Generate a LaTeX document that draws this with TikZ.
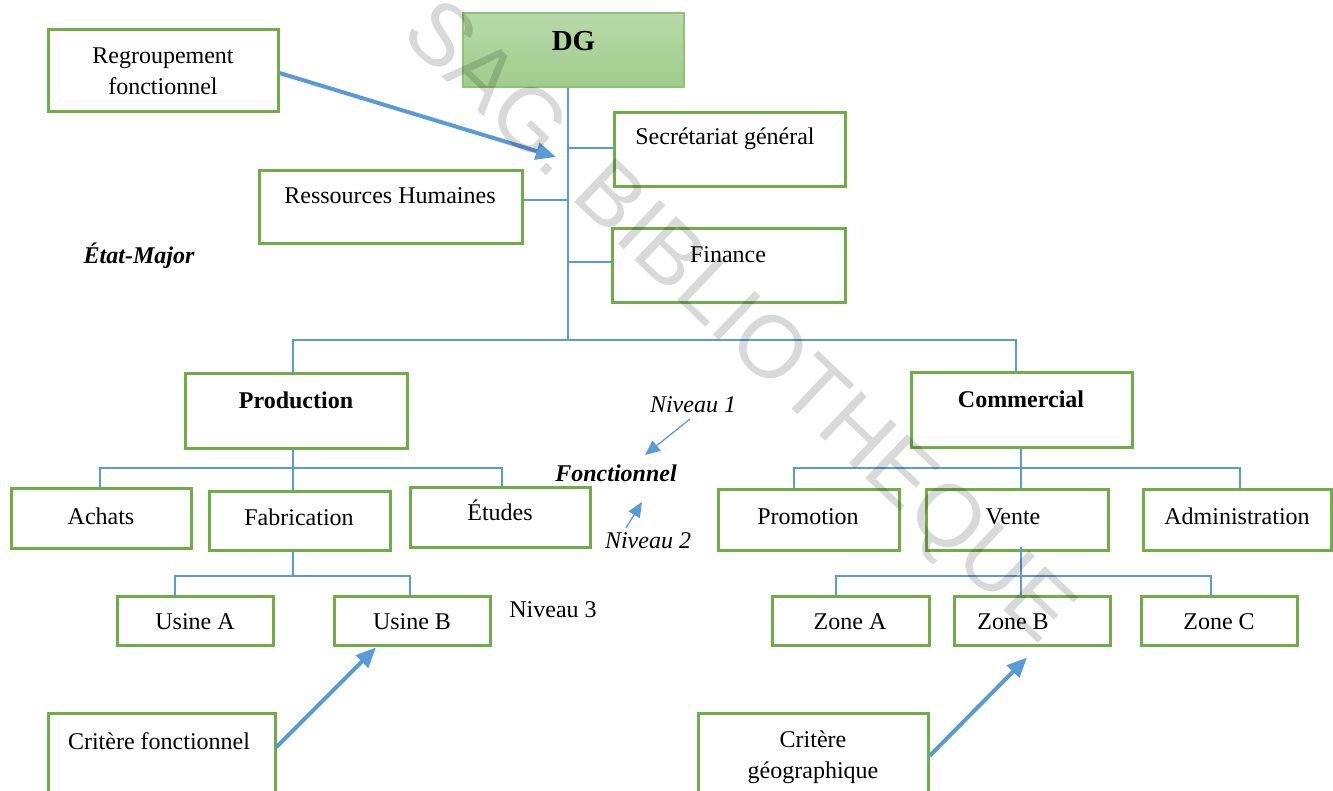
\documentclass[tikz,border=0pt]{standalone}
\usepackage{fontspec}
\setmainfont{Liberation Serif}
\newfontfamily\wmfont{Liberation Sans}
\usetikzlibrary{arrows.meta,calc}

\definecolor{boxgreen}{HTML}{70AD47}
\definecolor{linkblue}{HTML}{5B9BD5}
\definecolor{dgtop}{HTML}{B8D9AB}
\definecolor{dgbottom}{HTML}{A0CC8B}
\definecolor{dgedge}{HTML}{8DC372}

\begin{document}
\begin{tikzpicture}[x=1pt,y=-1pt,
  box/.style={draw=boxgreen, line width=3pt, fill=white, inner sep=0pt},
  txt/.style={anchor=base, inner sep=0pt, align=center,
              font=\fontsize{24}{31}\selectfont},
  conn/.style={draw=linkblue, line width=1.3pt},
  bigarrow/.style={draw=linkblue, line width=4pt,
                   -{Triangle[length=20pt,width=17pt]}},
  thinarrow/.style={draw=linkblue, line width=1.3pt,
                    -{Triangle[length=15pt,width=13pt]}},
  wm/.style={font=\wmfont\fontsize{88}{100}\selectfont, text=black,
             text opacity=0.15, inner sep=0pt, text height=63pt, text depth=0pt}]

\useasboundingbox (0,0) rectangle (1333,791);
\clip (0,0) rectangle (1333,791);

% ---- top: general management and staff services
\node[draw=dgedge, line width=1.4pt, top color=dgtop, bottom color=dgbottom,
      minimum width=221pt, minimum height=74pt, inner sep=0pt] (dg) at (573.5,50) {};
\node[txt, font=\fontsize{29}{34}\selectfont\bfseries] (dg-t) at (573.5,51) {DG};

\node[box, minimum width=230pt, minimum height=82pt] (regroup) at (163,71) {};
\node[txt] (regroup-t) at (163,95) {Regroupement\\fonctionnel};

\node[box, minimum width=231pt, minimum height=74pt] (sec) at (729.5,150) {};
\node[txt] (sec-t) at (725,145) {Secrétariat général};

\node[box, minimum width=263pt, minimum height=73pt] (rh) at (390.5,207.5) {};
\node[txt] (rh-t) at (390,204) {Ressources Humaines};

\node[box, minimum width=233pt, minimum height=74pt] (fin) at (728.5,266) {};
\node[txt] (fin-t) at (728,263) {Finance};

\node[txt, font=\fontsize{24}{31}\selectfont\bfseries\itshape] (etat) at (139,264) {État-Major};

% ---- main functions
\node[box, minimum width=222pt, minimum height=74pt] (prod) at (296,411) {};
\node[txt, font=\fontsize{24}{31}\selectfont\bfseries] (prod-t) at (296,409) {Production};

\node[box, minimum width=221pt, minimum height=74pt] (com) at (1021.5,410) {};
\node[txt, font=\fontsize{24}{31}\selectfont\bfseries] (com-t) at (1021,407) {Commercial};

% ---- level labels
\node[txt, font=\fontsize{24}{31}\selectfont\itshape] (niv1) at (693,413) {Niveau 1};
\node[txt, font=\fontsize{24}{31}\selectfont\bfseries\itshape] (fonct) at (616,481) {Fonctionnel};
\node[txt, font=\fontsize{24}{31}\selectfont\itshape] (niv2) at (648,548) {Niveau 2};
\node[txt] (niv3) at (553,617) {Niveau 3};

% ---- second level
\node[box, minimum width=180pt, minimum height=60pt] (achats) at (101,518) {};
\node[txt] (achats-t) at (101,524) {Achats};
\node[box, minimum width=181pt, minimum height=59pt] (fab) at (299.5,520.5) {};
\node[txt] (fab-t) at (299,525) {Fabrication};
\node[box, minimum width=180pt, minimum height=60pt] (etudes) at (500,517) {};
\node[txt] (etudes-t) at (500,520) {Études};

\node[box, minimum width=181pt, minimum height=61pt] (promo) at (808.5,519.5) {};
\node[txt] (promo-t) at (808,524) {Promotion};
\node[box, minimum width=182pt, minimum height=61pt] (vente) at (1017,519.5) {};
\node[txt] (vente-t) at (1013,524) {Vente};
\node[box, minimum width=188pt, minimum height=61pt] (admin) at (1237,519.5) {};
\node[txt] (admin-t) at (1237,524) {Administration};

% ---- third level
\node[box, minimum width=156pt, minimum height=49pt] (usineA) at (195,620.5) {};
\node[txt] (usineA-t) at (195,629) {Usine A};
\node[box, minimum width=156pt, minimum height=49pt] (usineB) at (412,620.5) {};
\node[txt] (usineB-t) at (412,629) {Usine B};

\node[box, minimum width=157pt, minimum height=49pt] (zoneA) at (850.5,620.5) {};
\node[txt] (zoneA-t) at (850,629) {Zone A};
\node[box, minimum width=156pt, minimum height=49pt] (zoneB) at (1032,620.5) {};
\node[txt] (zoneB-t) at (1013,629) {Zone B};
\node[box, minimum width=156pt, minimum height=49pt] (zoneC) at (1219,620.5) {};
\node[txt] (zoneC-t) at (1219,629) {Zone C};

% ---- criteria
\node[box, minimum width=227pt, minimum height=102pt] (cf) at (161.5,764) {};
\node[txt] (cf-t) at (159,749) {Critère fonctionnel};
\node[box, minimum width=230pt, minimum height=102pt] (cg) at (813,764) {};
\node[txt] (cg-t) at (813,778) {Critère\\géographique};

% ---- hierarchy lines
\coordinate (bus) at (568,340);
\draw[conn] (dg.south -| bus) -- (bus);
\draw[conn] ([yshift=2pt]bus |- sec.west) -- ([yshift=2pt]sec.west);
\draw[conn] ([yshift=7.5pt]rh.east) -- ([yshift=7.5pt]rh.east -| bus);
\draw[conn] ([yshift=4pt]fin.west -| bus) -- ([yshift=4pt]fin.west);

\coordinate (pl) at (293,340);
\coordinate (cl) at (1016,340);
\draw[conn] (prod.north -| pl) -- (pl) -- (cl) -- (com.north -| cl);

\coordinate (pj) at (293,468);
\draw[conn] (prod.south -| pj) -- (pj);
\draw[conn] (achats.north -| 100,0) -- (100,468) -- (502,468) -- (etudes.north -| 502,0);
\draw[conn] (pj) -- (fab.north -| pj);

\coordinate (fj) at (293,576);
\draw[conn] (fab.south -| fj) -- (fj);
\draw[conn] (usineA.north -| 175,0) -- (175,576) -- (410,576) -- (usineB.north -| 410,0);

\coordinate (cj) at (1021,468);
\draw[conn] (com.south -| cj) -- (cj);
\draw[conn] (promo.north -| 794,0) -- (794,468) -- (1240,468) -- (admin.north -| 1240,0);
\draw[conn] (cj) -- (vente.north -| cj);

\coordinate (vj) at (1021,576);
\draw[conn] ([yshift=5pt]vente.south -| vj) -- (zoneB.north -| vj);
\draw[conn] (zoneA.north -| 836,0) -- (836,576) -- (1211,576) -- (zoneC.north -| 1211,0);

% ---- explanatory arrows
\coordinate (rgtip) at (556,157);
\draw[bigarrow] ([yshift=-2pt]regroup.east) -- (rgtip);
\draw[bigarrow] ([yshift=17pt]cf.east) -- ([xshift=-36pt,yshift=-1pt]usineB.south);
\draw[bigarrow] ([yshift=8pt]cg.east) -- ([xshift=-5pt,yshift=-11pt]zoneB.south);

\coordinate (n1s) at (690,419);
\coordinate (n1e) at (645,455);
\draw[thinarrow] (n1s) -- (n1e);
\coordinate (n2s) at (626,528);
\coordinate (n2e) at (642,502);
\draw[thinarrow] (n2s) -- (n2e);

% ---- library stamp across the chart
\node[wm, rotate=-43.5] (stamp) at (742,318) {SAG. BIBLIOTHEQUE};

\end{tikzpicture}
\end{document}
